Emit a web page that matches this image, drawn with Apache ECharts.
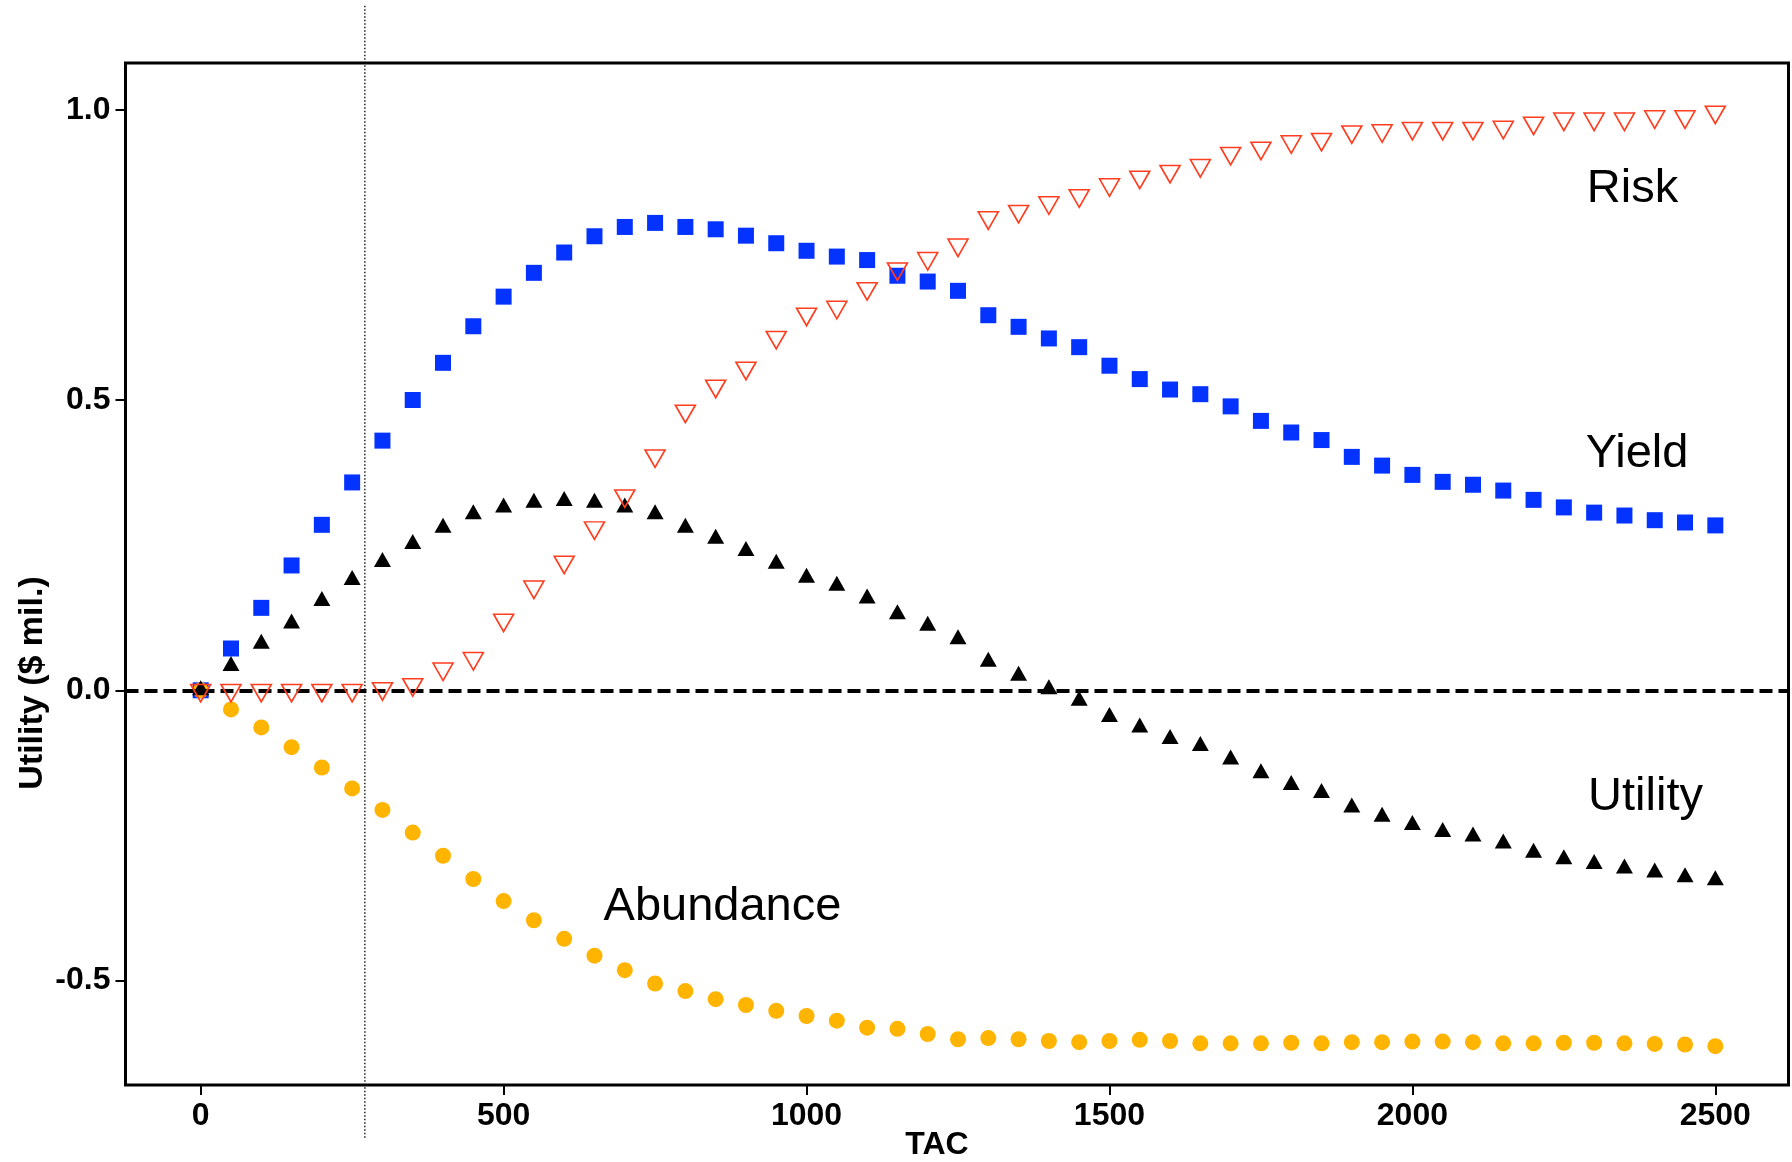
<!DOCTYPE html>
<html>
<head>
<meta charset="utf-8">
<script src="https://cdn.jsdelivr.net/npm/echarts@6/dist/echarts.min.js"></script>
<style>
html,body{margin:0;padding:0;background:#fff;}
#chart{width:1792px;height:1162px;}
</style>
</head>
<body>
<div id="chart"></div>
<script>
// ---- data ----
const tac = [0,50,100,150,200,250,300,350,400,450,500,550,600,650,700,750,800,850,900,950,
  1000,1050,1100,1150,1200,1250,1300,1350,1400,1450,1500,1550,1600,1650,1700,1750,1800,1850,1900,1950,
  2000,2050,2100,2150,2200,2250,2300,2350,2400,2450,2500];

const yieldVals = [0,0.072,0.142,0.215,0.285,0.358,0.430,0.500,0.564,0.627,0.678,0.719,0.754,0.782,0.798,0.805,0.798,0.794,0.783,0.770,
  0.757,0.747,0.741,0.714,0.704,0.688,0.646,0.626,0.606,0.591,0.559,0.536,0.518,0.510,0.489,0.464,0.444,0.431,0.402,0.387,
  0.371,0.359,0.354,0.344,0.328,0.315,0.306,0.301,0.293,0.289,0.284];

const riskVals = [0,0,0,0,0,0,0.003,0.010,0.037,0.055,0.121,0.178,0.221,0.280,0.335,0.404,0.481,0.524,0.555,0.608,
  0.648,0.660,0.692,0.726,0.744,0.767,0.814,0.825,0.840,0.852,0.871,0.884,0.894,0.904,0.925,0.934,0.945,0.949,0.962,0.964,
  0.968,0.968,0.968,0.970,0.977,0.984,0.984,0.984,0.988,0.988,0.996];

const utilityVals = [0,0.042,0.080,0.115,0.154,0.190,0.221,0.252,0.280,0.303,0.315,0.323,0.326,0.323,0.315,0.303,0.280,0.261,0.240,0.218,
  0.194,0.180,0.158,0.131,0.111,0.088,0.049,0.025,0.002,-0.018,-0.046,-0.064,-0.084,-0.096,-0.119,-0.143,-0.163,-0.177,-0.202,-0.218,
  -0.232,-0.244,-0.252,-0.264,-0.280,-0.291,-0.299,-0.307,-0.314,-0.322,-0.327];

const abundanceVals = [0,-0.033,-0.064,-0.098,-0.133,-0.169,-0.206,-0.245,-0.285,-0.325,-0.363,-0.396,-0.428,-0.457,-0.482,-0.505,-0.518,-0.532,-0.542,-0.552,
  -0.561,-0.569,-0.581,-0.583,-0.592,-0.601,-0.599,-0.601,-0.604,-0.606,-0.604,-0.602,-0.604,-0.608,-0.608,-0.608,-0.607,-0.608,-0.606,-0.606,
  -0.605,-0.605,-0.606,-0.608,-0.608,-0.607,-0.607,-0.608,-0.609,-0.610,-0.613];

const xTickVals = [0,500,1000,1500,2000,2500];
const yTickVals = [-0.5,0.0,0.5,1.0];

const refTAC = 271;                 // vertical dotted reference line
const refLineSpan = [1.179, -0.773];

const annotTexts = ['Risk','Yield','Utility','Abundance'];
const annotX = [2288, 2286, 2290, 665];
const annotY = [0.8405, 0.3837, -0.2066, -0.3963];   // text baselines

// ---- chart ----
const pair = vals => tac.map((t,i) => [t, vals[i]]);
const FONT = '"Liberation Sans", Arial, Helvetica, sans-serif';

const chart = echarts.init(document.getElementById('chart'), null, {renderer:'canvas'});

const option = {
  animation: false,
  backgroundColor: '#ffffff',
  grid: {
    left: 125.5, top: 63, width: 1663, height: 1022,
    outerBoundsMode: 'none', containLabel: false,
    show: true, borderColor: '#000', borderWidth: 3, backgroundColor: 'transparent'
  },
  xAxis: {
    type: 'value', min: -124.1, max: 2620.8,
    name: 'TAC', nameLocation: 'middle', nameGap: 44, nameMoveOverlap: false,
    nameTextStyle: {fontFamily: FONT, fontSize: 32, fontWeight: 'bold', color: '#000', padding: [0, 40, 0, 0]},
    splitLine: {show: false},
    axisLine: {show: false, onZero: false},
    axisTick: {show: true, customValues: xTickVals, length: 10, inside: false, lineStyle: {color: '#000', width: 2}},
    axisLabel: {customValues: xTickVals, formatter: v => String(Math.round(v)),
      fontFamily: FONT, fontSize: 32, fontWeight: 'bold', color: '#000', margin: 15}
  },
  yAxis: {
    type: 'value', min: -0.6798, max: 1.0804,
    name: 'Utility ($ mil.)', nameLocation: 'middle', nameGap: 76, nameMoveOverlap: false,
    nameTextStyle: {fontFamily: FONT, fontSize: 34, fontWeight: 'bold', color: '#000', padding: [0, 218, 0, 0]},
    splitLine: {show: false},
    axisLine: {show: false, onZero: false},
    axisTick: {show: true, customValues: yTickVals, length: 10, inside: false, lineStyle: {color: '#000', width: 2}},
    axisLabel: {customValues: yTickVals, formatter: v => Number(v).toFixed(1),
      fontFamily: FONT, fontSize: 32, fontWeight: 'bold', color: '#000', margin: 15}
  },
  series: [
    {
      name: 'Reference TAC', type: 'line', clip: false, silent: true, symbol: 'none',
      data: [[refTAC, refLineSpan[0]], [refTAC, refLineSpan[1]]],
      lineStyle: {color: '#000', width: 1.3, type: [1.5, 2]}, z: 1
    },
    {
      name: 'Yield', type: 'scatter', data: pair(yieldVals),
      symbol: 'rect', symbolSize: 16,
      itemStyle: {color: '#0433FF', opacity: 1}, z: 3,
      markLine: {
        silent: true, symbol: 'none', label: {show: false},
        lineStyle: {color: '#000', width: 4, type: [13, 6]},
        data: [{yAxis: 0}]
      }
    },
    {
      name: 'Abundance', type: 'scatter', data: pair(abundanceVals),
      symbol: 'circle', symbolSize: 16,
      itemStyle: {color: '#FFB400', opacity: 1}, z: 3
    },
    {
      name: 'Utility', type: 'scatter', data: pair(utilityVals),
      symbol: 'triangle', symbolSize: [17, 15], symbolOffset: [0, -2.5],
      itemStyle: {color: '#000', opacity: 1}, z: 4
    },
    {
      name: 'Risk', type: 'scatter', data: pair(riskVals),
      symbol: 'triangle', symbolRotate: 180, symbolSize: [20, 17.5], symbolOffset: [0, 2.9],
      itemStyle: {color: 'rgba(0,0,0,0)', borderColor: '#FF3D1F', borderWidth: 1.6, opacity: 1}, z: 5
    }
  ]
};
chart.setOption(option);

// annotation texts placed from data coordinates
const graphics = annotTexts.map((t, i) => {
  const p = chart.convertToPixel({gridIndex: 0}, [annotX[i], annotY[i]]);
  return {
    type: 'text', x: p[0], y: p[1] - 13, z: 10, silent: true,
    style: {text: t, font: '47px ' + FONT, fill: '#000', align: 'left', verticalAlign: 'middle'}
  };
});
chart.setOption({graphic: graphics});
</script>
</body>
</html>
